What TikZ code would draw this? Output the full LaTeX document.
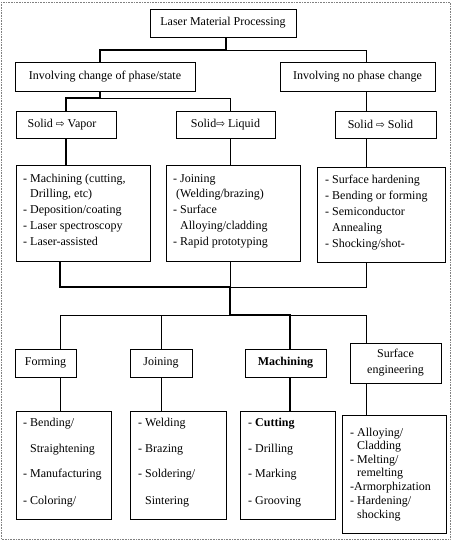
\documentclass[tikz,border=0pt]{standalone}
\usepackage{fontspec}
\setmainfont{Liberation Serif}
\newfontfamily\symfont{DejaVu Sans}
\newcommand\rarr{{\symfont\fontsize{10.5}{12}\selectfont ⇨}}
\newcommand\mkbox[6]{\node[box,minimum width={#4-#2},minimum height={#5-#3}] (#1) at ({(#2+#4)/2},{(#3+#5)/2}) {#6};}
\newcommand\mkline[4]{\node[lt] (#1) at (#2,#3) {#4};}
\newcommand\ind{\hphantom{- }}
\begin{document}
\begin{tikzpicture}[x=1pt,y=-1pt,
  box/.style={draw,line width=0.8pt,inner sep=0pt,align=center,font=\fontsize{12}{16}\selectfont},
  lt/.style={anchor=base west,inner sep=0pt,font=\fontsize{12}{16}\selectfont},
  thn/.style={line width=0.8pt},
  thk/.style={line width=1.8pt},
  frame/.style={draw=gray,densely dotted,line width=0.6pt}]
\useasboundingbox (0,0) rectangle (452,541);
\draw[frame] (1,2) rectangle (450,539);
% level 1-2
\mkbox{lmp}{150}{9}{296}{37}{Laser Material Processing}
\mkbox{chg}{15}{62}{195}{91}{Involving change of phase/state}
\mkbox{nochg}{280}{62}{435}{91}{Involving no phase change}
% level 3
\mkbox{sv}{16}{111}{116}{138}{\hspace*{-8pt}Solid \rarr{} Vapor}
\mkbox{sl}{176}{111}{275}{138}{Solid\rarr{} Liquid}
\mkbox{ss}{335}{111}{436}{138}{\hspace*{-10pt}Solid \rarr{} Solid}
% lists
\mkbox{lv}{16}{165}{150}{261}{}
\mkbox{ll}{166}{165}{300}{261}{}
\mkbox{ls}{317}{167}{445}{262}{}
\mkline{v1}{23}{182}{- Machining (cutting,}
\mkline{v2}{23}{197}{\ind Drilling, etc)}
\mkline{v3}{23}{213}{- Deposition/coating}
\mkline{v4}{23}{229}{- Laser spectroscopy}
\mkline{v5}{23}{245}{- Laser-assisted}
\mkline{q1}{173}{182}{- Joining}
\mkline{q2}{176}{197}{(Welding/brazing)}
\mkline{q3}{173}{213}{- Surface}
\mkline{q4}{173}{229}{\ind Alloying/cladding}
\mkline{q5}{173}{245}{- Rapid prototyping}
\mkline{s1}{325}{183}{- Surface hardening}
\mkline{s2}{325}{199}{- Bending or forming}
\mkline{s3}{325}{215}{- Semiconductor}
\mkline{s4}{325}{231}{\ind Annealing}
\mkline{s5}{325}{247}{- Shocking/shot-}
% level 4
\mkbox{form}{15}{349}{76}{377}{Forming}
\mkbox{join}{130}{349}{192}{377}{Joining}
\mkbox{mach}{245}{349}{326}{377}{\textbf{Machining}}
\mkbox{surf}{350}{343}{441}{383}{Surface\\engineering}
\mkbox{lf}{16}{411}{111}{519}{}
\mkbox{lj}{130}{411}{226}{519}{}
\mkbox{lm}{240}{411}{335}{519}{}
\mkbox{lsu}{342}{415}{446}{533}{}
\mkline{f1}{23}{426}{- Bending/}
\mkline{f2}{23}{452}{\ind Straightening}
\mkline{f3}{23}{477}{- Manufacturing}
\mkline{f4}{23}{504}{- Coloring/}
\mkline{j1}{138}{426}{- Welding}
\mkline{j2}{138}{452}{- Brazing}
\mkline{j3}{138}{477}{- Soldering/}
\mkline{j4}{138}{504}{\ind Sintering}
\mkline{m1}{248}{426}{- \textbf{Cutting}}
\mkline{m2}{248}{452}{- Drilling}
\mkline{m3}{248}{477}{- Marking}
\mkline{m4}{248}{504}{- Grooving}
\mkline{u1}{350}{436}{- Alloying/}
\mkline{u2}{350}{449}{\ind Cladding}
\mkline{u3}{350}{463}{- Melting/}
\mkline{u4}{350}{476}{\ind remelting}
\mkline{u5}{350}{490}{-Armorphization}
\mkline{u6}{350}{504}{- Hardening/}
\mkline{u7}{350}{518}{\ind shocking}
% connectors
\coordinate (b1) at (226,50);
\coordinate (b2) at (100,98);
\coordinate (b3) at (230,287);
\coordinate (b4) at (230,315);
\draw[thn] (b1) -| (366,0 |- nochg.north);
\draw[thk] (226,0 |- lmp.south) -- (b1) -| (100,0 |- chg.north);
\draw[thn] (b2) -| (230,0 |- sl.north);
\draw[thk] (100,0 |- chg.south) -- (b2) -| (66,0 |- sv.north);
\draw[thn] (366,0 |- nochg.south) -- (366,0 |- ss.north);
\draw[thk] (66,0 |- sv.south) -- (66,0 |- lv.north);
\draw[thn] (230,0 |- sl.south) -- (230,0 |- ll.north);
\draw[thn] (366,0 |- ss.south) -- (366,0 |- ls.north);
\draw[thn] (230,0 |- ll.south) -- (b3);
\draw[thn] (366,0 |- ls.south) |- (b3);
\draw[thn] (60,0 |- form.north) |- (366,315) -- (366,0 |- surf.north);
\draw[thn] (161,0 |- join.north) -- (161,315);
\draw[thk] (60,0 |- lv.south) |- (b3) -- (b4) -| (290,0 |- mach.north);
\draw[thn] (60,0 |- form.south) -- (60,0 |- lf.north);
\draw[thn] (161,0 |- join.south) -- (161,0 |- lj.north);
\draw[thk] (290,0 |- mach.south) -- (290,0 |- lm.north);
\draw[thn] (366,0 |- surf.south) -- (366,0 |- lsu.north);
\end{tikzpicture}
\end{document}
